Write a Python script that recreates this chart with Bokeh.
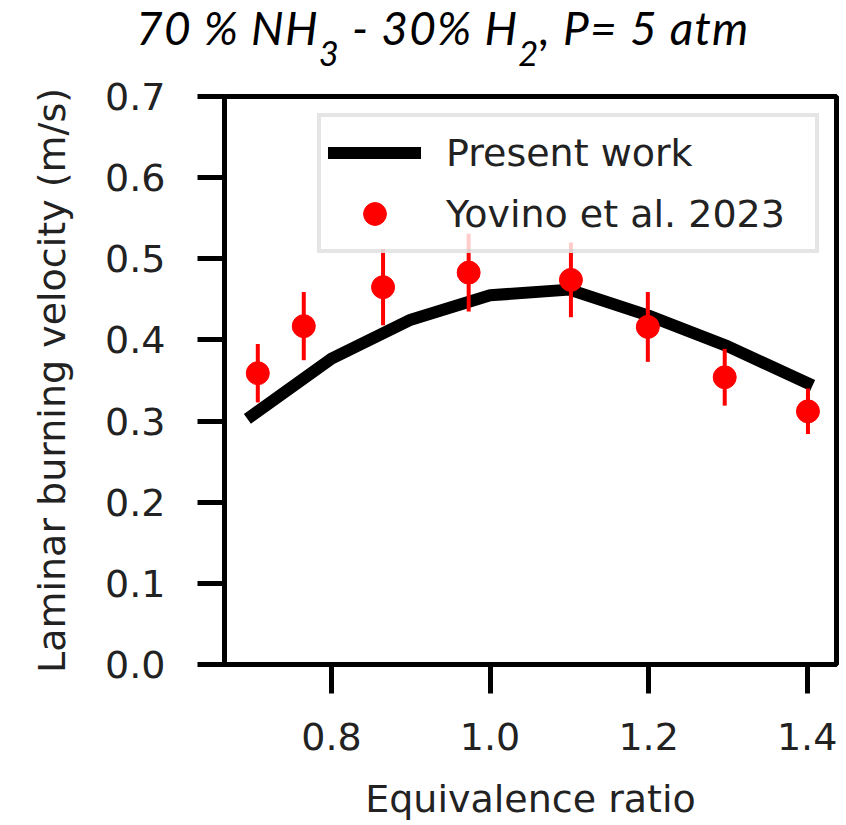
from bokeh.plotting import figure
from bokeh.models import (ColumnDataSource, Range1d, FixedTicker, PrintfTickFormatter,
                          Legend, LegendItem, Div)
from bokeh.layouts import column
from bokeh.embed import file_html
from bokeh.resources import INLINE

# ---- data ----
phi_model = [0.7, 0.8, 0.9, 1.0, 1.1, 1.2, 1.3, 1.4]
su_model = [0.307, 0.377, 0.425, 0.455, 0.462, 0.430, 0.392, 0.347]

phi_exp = [0.707, 0.765, 0.865, 0.973, 1.102, 1.199, 1.296, 1.401]
su_exp = [0.359, 0.417, 0.465, 0.483, 0.474, 0.416, 0.354, 0.312]
su_err = [0.036, 0.042, 0.047, 0.048, 0.046, 0.043, 0.035, 0.028]

x_ticks = [0.8, 1.0, 1.2, 1.4]
y_ticks = [0.0, 0.1, 0.2, 0.3, 0.4, 0.5, 0.6, 0.7]

label_model = "Present work"
label_exp = "Yovino et al. 2023"
x_label = "Equivalence ratio"
y_label = "Laminar burning velocity (m/s)"

# ---- sources ----
src_model = ColumnDataSource(dict(x=phi_model, y=su_model))
src_exp = ColumnDataSource(dict(
    x=phi_exp, y=su_exp,
    lo=[v - e for v, e in zip(su_exp, su_err)],
    hi=[v + e for v, e in zip(su_exp, su_err)],
))

FONT = "DejaVu Sans"
TXT = "#222222"
TITLE_H = 72

p = figure(width=846, height=825 - TITLE_H,
           x_range=Range1d(0.665, 1.437), y_range=Range1d(0.0, 0.7),
           output_backend="svg", toolbar_location=None,
           min_border_left=224, min_border_right=10,
           min_border_top=96 - TITLE_H, min_border_bottom=161)

p.background_fill_color = "white"
p.border_fill_color = "white"
p.grid.visible = False
p.outline_line_color = "black"
p.outline_line_width = 5

line_r = p.line("x", "y", source=src_model, line_color="black", line_width=12,
                line_cap="square", line_join="round")
err_r = p.segment(x0="x", y0="lo", x1="x", y1="hi", source=src_exp,
                  line_color="#ff0000", line_width=4)
pts_r = p.scatter("x", "y", source=src_exp, marker="circle", size=23,
                  fill_color="#ff0000", line_color="#ff0000")

for ax in (p.xaxis[0], p.yaxis[0]):
    ax.axis_line_width = 5
    ax.axis_line_color = "black"
    ax.major_tick_line_width = 5
    ax.major_tick_line_color = "black"
    ax.major_tick_in = 0
    ax.minor_tick_line_color = None
    ax.major_label_text_font = FONT
    ax.major_label_text_font_size = "38px"
    ax.major_label_text_color = TXT
    ax.axis_label_text_font = FONT
    ax.axis_label_text_font_size = "38px"
    ax.axis_label_text_font_style = "normal"
    ax.axis_label_text_color = TXT
    ax.formatter = PrintfTickFormatter(format="%.1f")

p.xaxis.ticker = FixedTicker(ticks=x_ticks)
p.yaxis.ticker = FixedTicker(ticks=y_ticks)
p.xaxis.major_tick_out = 29
p.yaxis.major_tick_out = 27
p.xaxis.major_label_standoff = 29
p.yaxis.major_label_standoff = 32
p.xaxis.axis_label = x_label
p.yaxis.axis_label = y_label
p.xaxis.axis_label_standoff = 24
p.yaxis.axis_label_standoff = 28

legend = Legend(items=[LegendItem(label=label_model, renderers=[line_r]),
                       LegendItem(label=label_exp, renderers=[pts_r])],
                location="top_right", margin=17, padding=7, spacing=4,
                glyph_width=93, glyph_height=57, label_standoff=25, label_width=362,
                label_text_font=FONT, label_text_font_size="38px",
                label_text_color=TXT,
                border_line_color="#cccccc", border_line_width=4,
                background_fill_color="white", background_fill_alpha=0.8)
p.add_layout(legend)

sub_style = "font-size:0.75em; vertical-align:-0.6em; line-height:0;"
title_html = (
    '<div style="font-family: Lato, \'Open Sans\', sans-serif; font-style: italic; '
    'font-size: 46px; line-height: 56px; letter-spacing: 1.2px; '
    'padding-left: 136px; padding-top: 0px; '
    'white-space: nowrap; color: #000;">'
    f'70 % NH<sub style="{sub_style}">3</sub>'
    f' - 30% H<sub style="{sub_style}">2</sub>'
    ', P= 5 atm</div>'
)
title = Div(text=title_html, width=846, height=TITLE_H, margin=0)

layout = column(title, p, spacing=0)

open("out.html", "w").write(file_html(layout, INLINE))
